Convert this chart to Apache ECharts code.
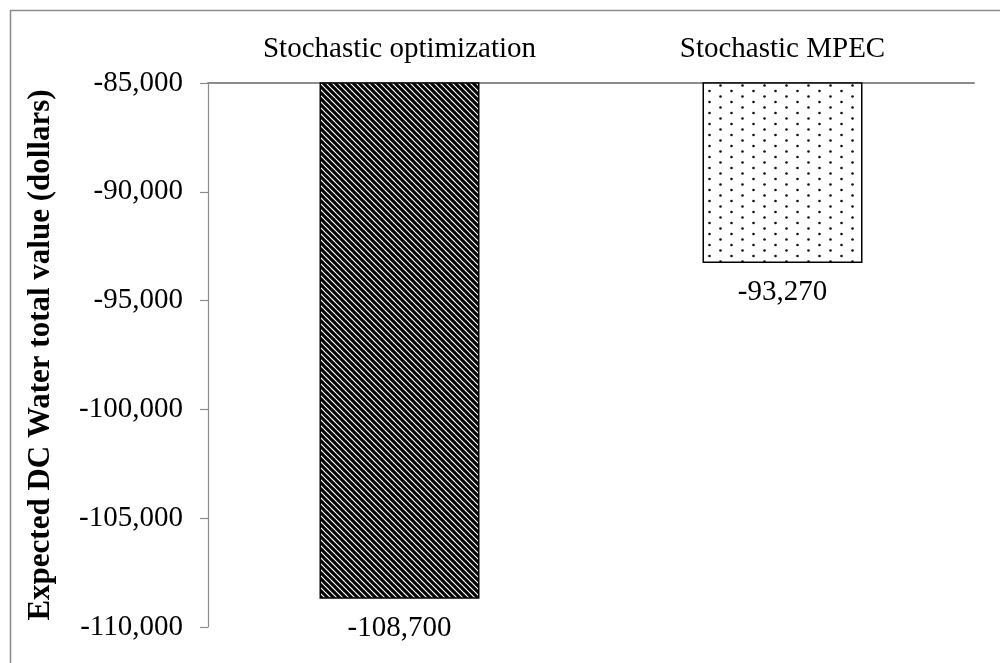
<!DOCTYPE html>
<html>
<head>
<meta charset="utf-8">
<script src="https://cdn.jsdelivr.net/npm/echarts@6/dist/echarts.min.js"></script>
<style>
html,body{margin:0;padding:0;background:#fff;}
#main{width:1000px;height:663px;}
</style>
</head>
<body>
<div id="main"></div>
<script>
var categories = ['Stochastic optimization', 'Stochastic MPEC'];
var values = [-108700, -93270];
var labels = ['-108,700', '-93,270'];
var yMin = -110000, yMax = -85000, yStep = 5000;
var yTitle = 'Expected DC Water total value (dollars)';

var FONT = "'Liberation Serif', 'Times New Roman', serif";

function stripePattern() {
  var p = 6;
  var c = document.createElement('canvas');
  c.width = p; c.height = p;
  var ctx = c.getContext('2d');
  ctx.fillStyle = '#fff';
  ctx.fillRect(0, 0, p, p);
  ctx.strokeStyle = '#000';
  ctx.lineWidth = 3.1;
  [-p, 0, p].forEach(function (k) {
    ctx.beginPath();
    ctx.moveTo(k - 1, -1);
    ctx.lineTo(k + p + 1, p + 1);
    ctx.stroke();
  });
  return c;
}
function dotPattern() {
  var w = 22, h = 11;
  var c = document.createElement('canvas');
  c.width = w; c.height = h;
  var ctx = c.getContext('2d');
  ctx.fillStyle = '#fff';
  ctx.fillRect(0, 0, w, h);
  ctx.fillStyle = '#111';
  [[5.5, 3], [16.5, 8.5]].forEach(function (d) {
    ctx.beginPath();
    ctx.arc(d[0], d[1], 1.3, 0, Math.PI * 2);
    ctx.fill();
  });
  return c;
}
var fills = [
  { image: stripePattern(), repeat: 'repeat' },
  { image: dotPattern(), repeat: 'repeat' }
];

var chart = echarts.init(document.getElementById('main'));
chart.setOption({
  animation: false,
  backgroundColor: '#fff',
  graphic: [{
    type: 'rect', left: 8, top: 8, silent: true, z: -10,
    shape: { x: 0.5, y: 0.5, width: 1100, height: 800 },
    style: { fill: 'none', stroke: '#8a8a8a', lineWidth: 1.5 }
  }],
  grid: { left: 208, right: 26, top: 83, bottom: 36 },
  xAxis: {
    type: 'category',
    position: 'top',
    data: categories,
    axisLine: { lineStyle: { color: '#8c8c8c', width: 2 } },
    axisTick: { show: false },
    axisLabel: { color: '#000', fontFamily: FONT, fontSize: 29, margin: 19 }
  },
  yAxis: {
    type: 'value',
    min: yMin, max: yMax, interval: yStep,
    name: yTitle,
    nameLocation: 'middle',
    nameGap: 152,
    nameRotate: 90,
    nameTextStyle: { color: '#000', fontFamily: FONT, fontSize: 31, fontWeight: 'bold' },
    axisLine: { show: true, lineStyle: { color: '#8c8c8c', width: 1.2 } },
    axisTick: { show: true, length: 8, inside: false, lineStyle: { color: '#8c8c8c', width: 1.2 } },
    splitLine: { show: false },
    axisLabel: {
      color: '#000', fontFamily: FONT, fontSize: 29, margin: 25,
      formatter: function (v) { return v.toLocaleString('en-US'); }
    }
  },
  series: [{
    type: 'bar',
    barWidth: 160,
    data: values.map(function (v, i) {
      return {
        value: v,
        itemStyle: { color: fills[i], borderColor: '#000', borderWidth: 1.5 },
        label: { formatter: labels[i] }
      };
    }),
    label: {
      show: true, position: 'bottom', distance: 15,
      color: '#000', fontFamily: FONT, fontSize: 29
    }
  }]
});
</script>
</body>
</html>
